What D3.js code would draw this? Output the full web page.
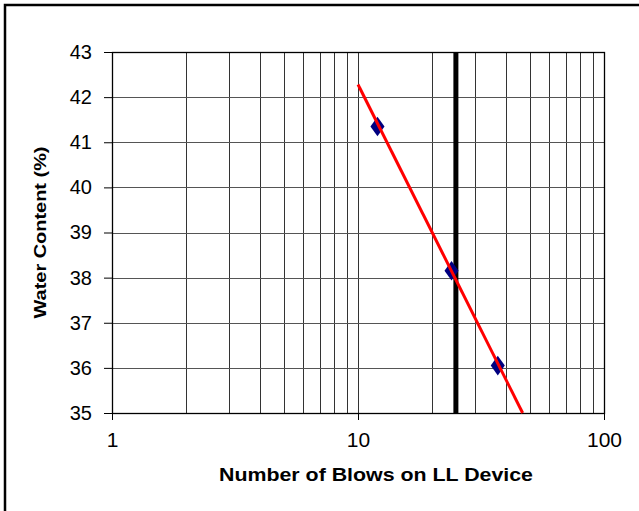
<!DOCTYPE html>
<html>
<head>
<meta charset="utf-8">
<script src="https://cdn.jsdelivr.net/npm/d3@7"></script>
<style>
  body { margin: 0; background: #fff; }
  svg { display: block; font-family: Arial, "Liberation Sans", sans-serif; }
</style>
</head>
<body>
<div id="chart-mount"></div>
<script>
var WIDTH = 639;
var HEIGHT = 511;
var MARGIN = { top: 52, right: 35, bottom: 98, left: 112 };

// measured blows / water content
var blows = [12, 24, 37];
var waterContent = [41.35, 38.15, 36.05];
// trend line ends
var trendBlows = [10, 46.7];
var trendWater = [42.28, 35];
var liquidLimitBlows = 25;

var xTickValues = [1, 10, 100];
var xGridValues = [2, 3, 4, 5, 6, 7, 8, 9, 10, 20, 30, 40, 50, 60, 70, 80, 90];
var yTickValues = [35, 36, 37, 38, 39, 40, 41, 42, 43];

var innerW = WIDTH - MARGIN.left - MARGIN.right;
var innerH = HEIGHT - MARGIN.top - MARGIN.bottom;

var x = d3.scaleLog().domain([1, 100]).range([0, innerW]);
var y = d3.scaleLinear().domain([35, 43]).range([innerH, 0]);

function crisp (v) {
  return Math.round(v) + 0.5;
}

var $svg = d3.select('#chart-mount').append('svg')
  .attr('width', WIDTH)
  .attr('height', HEIGHT);

// outer chart frame (runs off the right and bottom of the picture)
$svg.append('rect')
  .attr('x', 5)
  .attr('y', 5)
  .attr('width', 700)
  .attr('height', 600)
  .attr('fill', 'none')
  .attr('stroke', '#000')
  .attr('stroke-width', 2.5);

var $plot = $svg.append('g')
  .attr('transform', 'translate(' + MARGIN.left + ',' + MARGIN.top + ')');

// grid
$plot.append('g')
  .selectAll('line')
  .data(xGridValues)
  .enter()
    .append('line')
    .attr('x1', function (d) { return crisp(x(d)); })
    .attr('x2', function (d) { return crisp(x(d)); })
    .attr('y1', 0)
    .attr('y2', innerH)
    .attr('stroke', '#333')
    .attr('stroke-width', 1);

$plot.append('g')
  .selectAll('line')
  .data(yTickValues)
  .enter()
    .append('line')
    .attr('x1', 0)
    .attr('x2', innerW)
    .attr('y1', function (d) { return crisp(y(d)); })
    .attr('y2', function (d) { return crisp(y(d)); })
    .attr('stroke', '#555')
    .attr('stroke-width', 1);

// plot border
$plot.append('rect')
  .attr('x', 0.5)
  .attr('y', 0.5)
  .attr('width', Math.round(innerW))
  .attr('height', Math.round(innerH))
  .attr('fill', 'none')
  .attr('stroke', '#000')
  .attr('stroke-width', 1.3);

// axes
var xAxis = d3.axisBottom(x)
  .tickValues(xTickValues)
  .tickFormat(d3.format('d'))
  .tickSize(7)
  .tickPadding(12);

var yAxis = d3.axisLeft(y)
  .tickValues(yTickValues)
  .tickFormat(d3.format('d'))
  .tickSize(8)
  .tickPadding(12);

var $xAxis = $plot.append('g')
  .attr('transform', 'translate(0,' + innerH + ')')
  .call(xAxis);
$xAxis.select('.domain').remove();
$xAxis.selectAll('line').attr('stroke', '#000');
$xAxis.selectAll('text')
  .attr('fill', '#000')
  .style('font-size', '21px')
  .attr('font-family', 'Arial, "Liberation Sans", sans-serif');

var $yAxis = $plot.append('g').call(yAxis);
$yAxis.select('.domain').remove();
$yAxis.selectAll('line').attr('stroke', '#000');
$yAxis.selectAll('text')
  .attr('fill', '#000')
  .style('font-size', '20px')
  .attr('font-family', 'Arial, "Liberation Sans", sans-serif');

// liquid limit marker at 25 blows
$plot.append('line')
  .attr('x1', x(liquidLimitBlows))
  .attr('x2', x(liquidLimitBlows))
  .attr('y1', 0)
  .attr('y2', innerH)
  .attr('stroke', '#000')
  .attr('stroke-width', 5);

// data points
var diamond = d3.symbol().type(d3.symbolDiamond).size(110);
$plot.append('g')
  .selectAll('path')
  .data(blows)
  .enter()
    .append('path')
    .attr('d', diamond)
    .attr('transform', function (d, i) {
      return 'translate(' + x(d) + ',' + y(waterContent[i]) + ') scale(1.25,1)';
    })
    .attr('fill', '#000080');

// trend line
var line = d3.line()
  .x(function (d, i) { return x(d); })
  .y(function (d, i) { return y(trendWater[i]); });

$plot.append('path')
  .datum(trendBlows)
  .attr('d', line)
  .attr('fill', 'none')
  .attr('stroke', '#ff0000')
  .attr('stroke-width', 3);

// axis titles
$svg.append('text')
  .attr('x', MARGIN.left + innerW / 2 + 18)
  .attr('y', 481)
  .attr('text-anchor', 'middle')
  .attr('font-weight', 'bold')
  .attr('font-size', 19)
  .attr('textLength', 314)
  .attr('lengthAdjust', 'spacingAndGlyphs')
  .text('Number of Blows on LL Device');

$svg.append('text')
  .attr('transform', 'translate(46,' + (MARGIN.top + innerH / 2) + ') rotate(-90)')
  .attr('text-anchor', 'middle')
  .attr('font-weight', 'bold')
  .attr('font-size', 17)
  .attr('textLength', 172)
  .attr('lengthAdjust', 'spacingAndGlyphs')
  .text('Water Content (%)');
</script>
</body>
</html>
